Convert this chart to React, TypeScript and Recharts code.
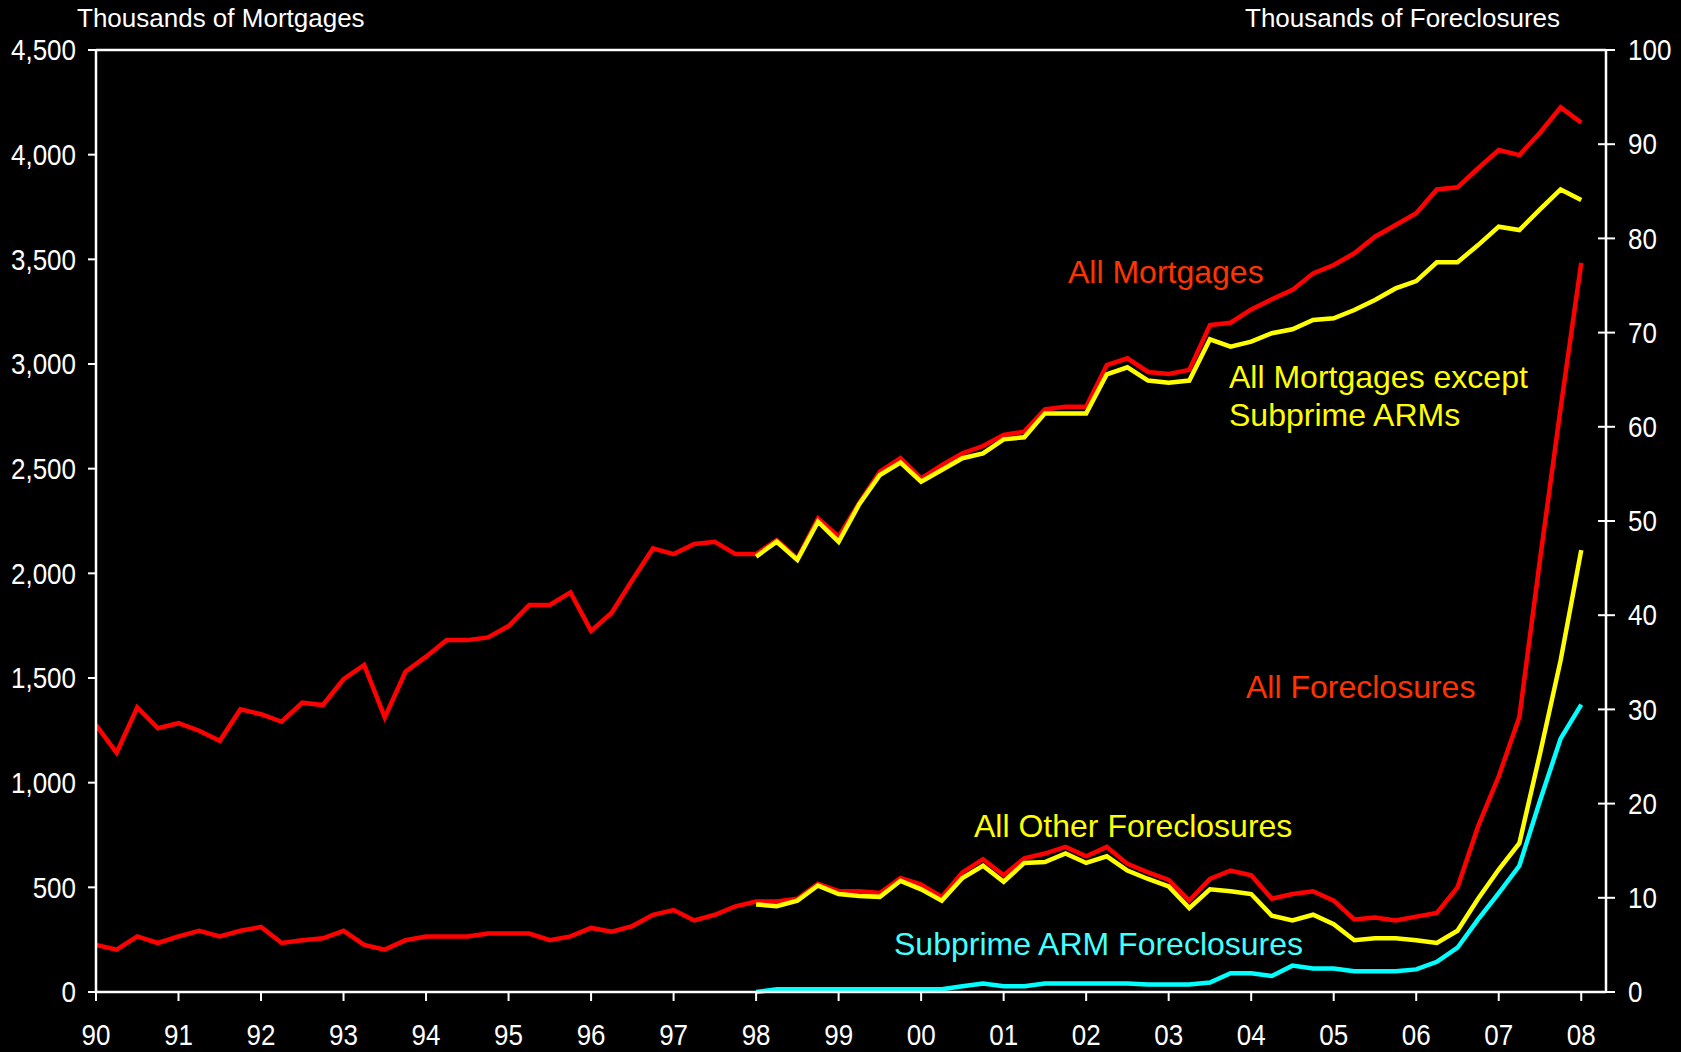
import React from "react";
import { LineChart, Line, XAxis, YAxis, ReferenceLine } from "recharts";

// Quarterly observations, 1990Q1 .. 2008Q1
const startYear = 1990;
const quarterCount = 73;

const yearTicks = [1990, 1991, 1992, 1993, 1994, 1995, 1996, 1997, 1998, 1999, 2000, 2001, 2002, 2003, 2004, 2005, 2006, 2007, 2008];
const mortgageTicks = [0, 500, 1000, 1500, 2000, 2500, 3000, 3500, 4000, 4500];
const foreclosureTicks = [0, 10, 20, 30, 40, 50, 60, 70, 80, 90, 100];

// Thousands of mortgages (left axis)
const allMortgages = [
  1275, 1143, 1360, 1260,
  1284, 1248, 1200, 1350,
  1327, 1291, 1382, 1371,
  1494, 1562, 1312, 1530,
  1602, 1681, 1681, 1694,
  1748, 1849, 1849, 1909,
  1725, 1812, 1968, 2119,
  2092, 2140, 2151, 2092,
  2092, 2159, 2070, 2263,
  2175, 2336, 2486, 2550,
  2454, 2517, 2573, 2608,
  2661, 2677, 2783, 2796,
  2796, 2995, 3027, 2962,
  2952, 2972, 3186, 3197,
  3261, 3309, 3354, 3433,
  3473, 3529, 3608, 3664,
  3720, 3834, 3844, 3935,
  4022, 3998, 4105, 4226,
  4153,
];

const mortgagesExSubprimeArms = [
  null, null, null, null, null, null, null, null,
  null, null, null, null, null, null, null, null,
  null, null, null, null, null, null, null, null,
  null, null, null, null, null, null, null, null,
  2080, 2151, 2064, 2247,
  2151, 2330, 2470, 2529,
  2438, 2494, 2550, 2573,
  2640, 2650, 2764, 2764,
  2764, 2951, 2984, 2921,
  2911, 2921, 3118, 3083,
  3107, 3147, 3166, 3210,
  3218, 3258, 3306, 3361,
  3396, 3486, 3486, 3568,
  3656, 3640, 3739, 3834,
  3783,
];

// Thousands of foreclosures (right axis)
const allForeclosures = [
  5.0, 4.5, 5.9, 5.2,
  5.9, 6.5, 5.9, 6.5,
  6.9, 5.2, 5.5, 5.7,
  6.5, 5.0, 4.5, 5.5,
  5.9, 5.9, 5.9, 6.2,
  6.2, 6.2, 5.5, 5.9,
  6.8, 6.4, 7.0, 8.2,
  8.7, 7.6, 8.2, 9.1,
  9.6, 9.6, 9.9, 11.5,
  10.7, 10.7, 10.5, 12.1,
  11.4, 10.1, 12.7, 14.1,
  12.4, 14.2, 14.7, 15.4,
  14.4, 15.4, 13.6, 12.7,
  11.9, 9.7, 12.0, 12.9,
  12.4, 9.9, 10.4, 10.7,
  9.7, 7.7, 7.9, 7.6,
  8.0, 8.4, 11.1, 17.6,
  22.9, 29.2, 45.9, 62.0,
  77.4,
];

const otherForeclosures = [
  null, null, null, null, null, null, null, null,
  null, null, null, null, null, null, null, null,
  null, null, null, null, null, null, null, null,
  null, null, null, null, null, null, null, null,
  9.3, 9.1, 9.7, 11.3,
  10.4, 10.2, 10.1, 11.8,
  10.9, 9.7, 12.1, 13.4,
  11.7, 13.7, 13.8, 14.7,
  13.7, 14.4, 12.9, 12.0,
  11.2, 8.9, 10.9, 10.7,
  10.4, 8.1, 7.6, 8.2,
  7.2, 5.5, 5.7, 5.7,
  5.5, 5.2, 6.5, 9.9,
  13.0, 15.8, 25.3, 35.2,
  46.9,
];

const subprimeArmForeclosures = [
  null, null, null, null, null, null, null, null,
  null, null, null, null, null, null, null, null,
  null, null, null, null, null, null, null, null,
  null, null, null, null, null, null, null, null,
  0.0, 0.3, 0.3, 0.3,
  0.3, 0.3, 0.3, 0.3,
  0.3, 0.3, 0.6, 0.9,
  0.6, 0.6, 0.9, 0.9,
  0.9, 0.9, 0.9, 0.8,
  0.8, 0.8, 1.0, 2.0,
  2.0, 1.7, 2.8, 2.5,
  2.5, 2.2, 2.2, 2.2,
  2.4, 3.2, 4.7, 7.7,
  10.5, 13.4, 20.3, 26.9,
  30.5,
];

const data = Array.from({ length: quarterCount }, (_, i) => ({
  t: startYear + i / 4,
  allMortgages: allMortgages[i],
  mortgagesExSubprimeArms: mortgagesExSubprimeArms[i],
  allForeclosures: allForeclosures[i],
  otherForeclosures: otherForeclosures[i],
  subprimeArmForeclosures: subprimeArmForeclosures[i],
}));

const FONT = "'Liberation Sans', Arial, Helvetica, sans-serif";
const WHITE = "#ffffff";
const RED = "#ff0000";
const YELLOW = "#ffff00";
const CYAN = "#00ffff";

const W = 1681;
const H = 1052;
const TICK_FONT = 26;
const TICK_STRETCH = 1.11;

const RIGHT_TICK_SIZE = 9;
const RIGHT_TICK_MARGIN = 13;

const fmtThousands = (v: number) => v.toLocaleString("en-US");
const fmtYear = (v: number) => String(v).slice(2);

const LeftTick = (props: any) => {
  const { x, y, payload } = props;
  return (
    <text
      transform={`translate(${x},${y}) scale(1,${TICK_STRETCH})`}
      x={0}
      y={0}
      dy="0.355em"
      fill={WHITE}
      fontSize={TICK_FONT}
      fontFamily={FONT}
      textAnchor="end"
    >
      {fmtThousands(payload.value)}
    </text>
  );
};

const BottomTick = (props: any) => {
  const { x, y, payload } = props;
  return (
    <text
      transform={`translate(${x},${y}) scale(1,${TICK_STRETCH})`}
      x={0}
      y={0}
      dy="0.71em"
      fill={WHITE}
      fontSize={TICK_FONT}
      fontFamily={FONT}
      textAnchor="middle"
    >
      {fmtYear(payload.value)}
    </text>
  );
};

const RightTick = (props: any) => {
  const { x, y, payload } = props;
  const axisX = x - RIGHT_TICK_SIZE - RIGHT_TICK_MARGIN;
  return (
    <g>
      <line x1={axisX - 8} x2={axisX + 9} y1={y} y2={y} stroke={WHITE} strokeWidth={2} />
      <text
        transform={`translate(${x},${y}) scale(1,${TICK_STRETCH})`}
        x={0}
        y={0}
        dy="0.355em"
        fill={WHITE}
        fontSize={TICK_FONT}
        fontFamily={FONT}
        textAnchor="start"
      >
        {payload.value}
      </text>
    </g>
  );
};

export default function App() {
  return (
    <div
      style={{
        position: "absolute",
        left: 0,
        top: 0,
        width: W,
        height: H,
        background: "#000",
        fontFamily: FONT,
        overflow: "hidden",
      }}
    >
      <LineChart
        width={W}
        height={H}
        data={data}
        margin={{ top: 50, right: 0, bottom: 0, left: 0 }}
        style={{ background: "#000" }}
      >
        <XAxis
          dataKey="t"
          type="number"
          domain={[1990, 2008.3]}
          ticks={yearTicks}
          interval={0}
          height={60}
          stroke={WHITE}
          strokeWidth={2.5}
          tickSize={9}
          tickMargin={23}
          tick={<BottomTick />}
          tickLine={{ stroke: WHITE, strokeWidth: 2 }}
          allowDataOverflow
        />
        <YAxis
          yAxisId="left"
          orientation="left"
          domain={[0, 4500]}
          ticks={mortgageTicks}
          interval={0}
          width={96}
          stroke={WHITE}
          strokeWidth={2.5}
          tickSize={8}
          tickMargin={12}
          tick={<LeftTick />}
          tickLine={{ stroke: WHITE, strokeWidth: 2 }}
        />
        <YAxis
          yAxisId="right"
          orientation="right"
          domain={[0, 100]}
          ticks={foreclosureTicks}
          interval={0}
          width={75}
          stroke={WHITE}
          strokeWidth={2.5}
          tickSize={RIGHT_TICK_SIZE}
          tickMargin={RIGHT_TICK_MARGIN}
          tickLine={false}
          tick={<RightTick />}
        />
        <ReferenceLine yAxisId="left" y={4500} stroke={WHITE} strokeWidth={2.5} />

        <Line yAxisId="left" dataKey="allMortgages" stroke={RED} strokeWidth={4.5} dot={false} isAnimationActive={false} connectNulls={false} />
        <Line yAxisId="left" dataKey="mortgagesExSubprimeArms" stroke={YELLOW} strokeWidth={4.5} dot={false} isAnimationActive={false} connectNulls={false} />
        <Line yAxisId="right" dataKey="allForeclosures" stroke={RED} strokeWidth={4.5} dot={false} isAnimationActive={false} connectNulls={false} />
        <Line yAxisId="right" dataKey="otherForeclosures" stroke={YELLOW} strokeWidth={4.5} dot={false} isAnimationActive={false} connectNulls={false} />
        <Line yAxisId="right" dataKey="subprimeArmForeclosures" stroke={CYAN} strokeWidth={4.5} dot={false} isAnimationActive={false} connectNulls={false} />
      </LineChart>

      <svg
        width={W}
        height={H}
        style={{ position: "absolute", left: 0, top: 0, pointerEvents: "none" }}
        fontFamily={FONT}
      >
        <text x={77} y={27} fill={WHITE} fontSize={26}>Thousands of Mortgages</text>
        <text x={1245} y={27} fill={WHITE} fontSize={26}>Thousands of Foreclosures</text>
        <text x={1068} y={283} fill="#ff3300" fontSize={32}>All Mortgages</text>
        <text x={1229} y={388} fill={YELLOW} fontSize={32}>All Mortgages except</text>
        <text x={1229} y={426} fill={YELLOW} fontSize={32}>Subprime ARMs</text>
        <text x={1246} y={698} fill="#ff3300" fontSize={32}>All Foreclosures</text>
        <text x={974} y={837} fill={YELLOW} fontSize={32}>All Other Foreclosures</text>
        <text x={894} y={955} fill="#44ffff" fontSize={32}>Subprime ARM Foreclosures</text>
      </svg>
    </div>
  );
}
